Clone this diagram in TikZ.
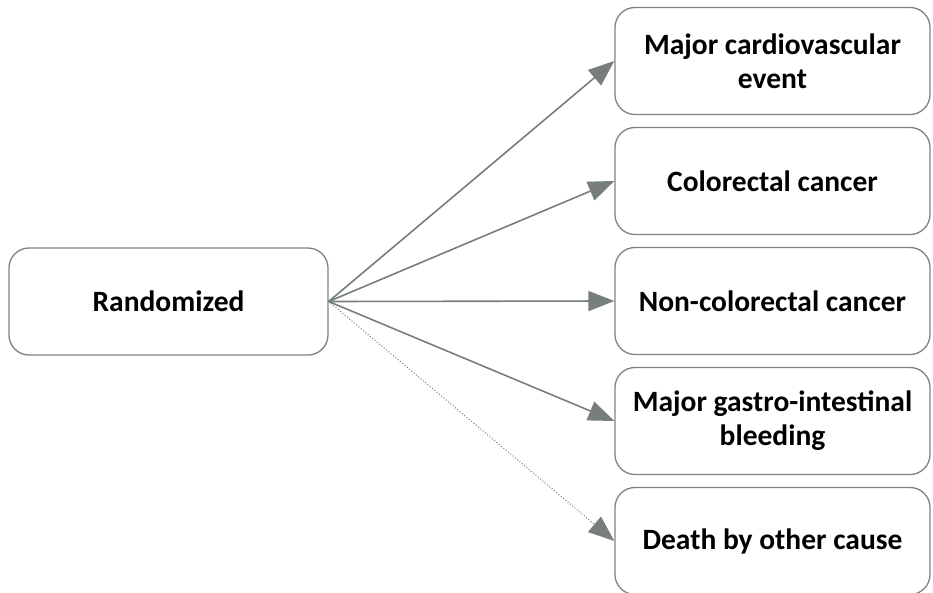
\documentclass[tikz,border=0pt]{standalone}
\usepackage{fontspec}
\setmainfont{Carlito}
\usepackage{tikz}
\usetikzlibrary{arrows.meta}
\usetikzlibrary{positioning}
\definecolor{boxgray}{RGB}{128,130,130}
\definecolor{arrowgray}{RGB}{118,126,126}
\tikzset{box/.style = {draw = boxgray, line width = 1.3pt, rounded corners = 20pt,
                       align = center, font = \bfseries\fontsize{29.5}{34}\selectfont,
                       minimum height = 107pt, inner sep = 0}}
\tikzset{link/.style = {draw = arrowgray, line width = 1.6pt,
                        -{Triangle[length = 26pt, width = 20pt]}}}
\tikzset{dotlink/.style = {link, line width = 1pt, dotted}}

\begin{document}
\begin{tikzpicture}[x = 1pt, y = -1pt]
    \useasboundingbox (0, 0) rectangle (933, 593);

    \node [box, minimum width = 319pt] (rand) at (168.5, 301.5) {Randomized};
    \node [box, minimum width = 315pt] (mace) at (772.5, 61) {Major cardiovascular\\event};
    \node [box, minimum width = 315pt] (crc) at (772.5, 181) {Colorectal cancer};
    \node [box, minimum width = 315pt] (ncrc) at (772.5, 301) {Non-colorectal cancer};
    \node [box, minimum width = 315pt] (gib) at (772.5, 421) {Major gastro-intestinal\\bleeding};
    \node [box, minimum width = 315pt] (death) at (772.5, 541) {Death by other cause};

    \draw [link] (rand.east) -- (mace.west);
    \draw [link] (rand.east) -- (crc.west);
    \draw [link] (rand.east) -- (ncrc.west);
    \draw [link] (rand.east) -- (gib.west);
    \draw [dotlink] (rand.east) -- (death.west);
  \end{tikzpicture}
\end{document}
